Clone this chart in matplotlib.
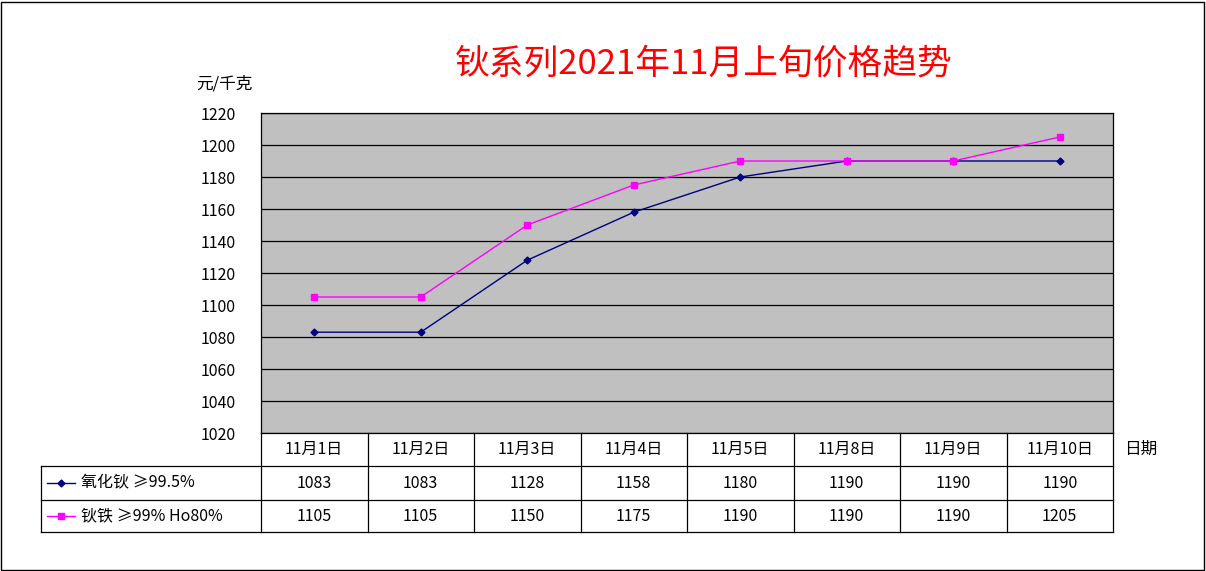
import matplotlib
matplotlib.use("Agg")
import matplotlib.pyplot as plt
from matplotlib.transforms import blended_transform_factory
from matplotlib.lines import Line2D
from matplotlib.patches import Rectangle

plt.rcParams['font.family'] = ['Noto Sans CJK SC', 'DejaVu Sans']

categories = ["11月1日", "11月2日", "11月3日", "11月4日", "11月5日", "11月8日", "11月9日", "11月10日"]
s1_name = "氧化钬 ≥99.5%"
s2_name = "钬铁 ≥99% Ho80%"
s1 = [1083, 1083, 1128, 1158, 1180, 1190, 1190, 1190]
s2 = [1105, 1105, 1150, 1175, 1190, 1190, 1190, 1205]
yticks = list(range(1020, 1221, 20))

fig = plt.figure(figsize=(12.06, 5.71), dpi=100)
fig.patches.append(Rectangle((0.001, 0.002), 0.997, 0.995, transform=fig.transFigure,
                             fill=False, edgecolor='black', lw=1))
ax = fig.add_axes([261/1206, 1-433/571, 852/1206, 320/571])
ax.set_facecolor('#c0c0c0')
ax.set_xlim(-0.5, 7.5)
ax.set_ylim(1020, 1220)
ax.set_yticks(yticks)
ax.set_yticklabels([str(v) for v in yticks], fontsize=11.5)
ax.tick_params(axis='y', length=0, pad=18)
ax.set_xticks([])
for v in yticks:
    ax.axhline(v, color='black', lw=0.9)
for sp in ax.spines.values():
    sp.set_color('black'); sp.set_linewidth(0.9)

x = list(range(len(categories)))
ax.plot(x, s1, color='#000080', lw=1, marker='D', ms=3.5)
ax.plot(x, s2, color='#ff00ff', lw=1, marker='s', ms=4.5)

# table
tr = blended_transform_factory(ax.transData, ax.transAxes)
rows = [0, -0.103, -0.21, -0.31]
xl = -2.566
kw = dict(transform=tr, color='black', lw=0.9, clip_on=False)
for yy in rows[1:]:
    ax.add_line(Line2D([xl, 7.5], [yy, yy], **kw))
for k in range(9):
    ax.add_line(Line2D([k-0.5, k-0.5], [0, rows[-1]], **kw))
ax.add_line(Line2D([xl, xl], [rows[1], rows[-1]], **kw))
for i, c in enumerate(categories):
    ax.text(i, (rows[0]+rows[1])/2, c, transform=tr, ha='center', va='center', fontsize=11.5)
    ax.text(i, (rows[1]+rows[2])/2, str(s1[i]), transform=tr, ha='center', va='center', fontsize=11.5)
    ax.text(i, (rows[2]+rows[3])/2, str(s2[i]), transform=tr, ha='center', va='center', fontsize=11.5)
for yy, name, col, mk, ms in [((rows[1]+rows[2])/2, s1_name, '#000080', 'D', 3.5),
                              ((rows[2]+rows[3])/2, s2_name, '#ff00ff', 's', 4.5)]:
    ax.add_line(Line2D([xl+0.06, xl+0.32], [yy, yy], transform=tr, color=col, lw=1, clip_on=False))
    ax.plot([xl+0.19], [yy], transform=tr, color=col, marker=mk, ms=ms, clip_on=False)
    ax.text(xl+0.38, yy, name, transform=tr, ha='left', va='center', fontsize=11.5)

ax.text(7.6, (rows[0]+rows[1])/2, "日期", transform=tr, ha='left', va='center', fontsize=12)
fig.text(196/1206, 1-84/571, "元/千克", fontsize=12, ha='left', va='center')
fig.text(704/1206, 1-64/571, "钬系列2021年11月上旬价格趋势", color='red', fontsize=25,
         ha='center', va='center')

fig.savefig("out.png", dpi=100)
